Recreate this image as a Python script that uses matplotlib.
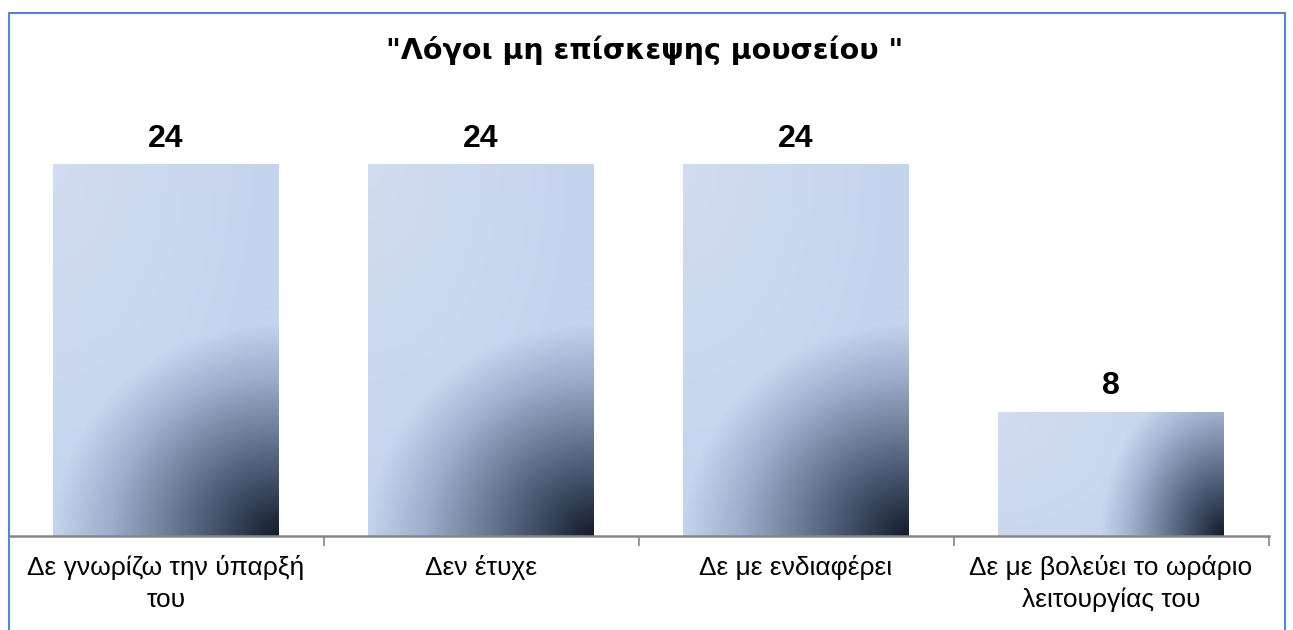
import numpy as np
import matplotlib
matplotlib.use('Agg')
import matplotlib.pyplot as plt
from matplotlib.colors import LinearSegmentedColormap
from matplotlib.patches import Rectangle

categories = ['Δε γνωρίζω την ύπαρξή\nτου', 'Δεν έτυχε', 'Δε με ενδιαφέρει',
              'Δε με βολεύει το ωράριο\nλειτουργίας του']
values = [24, 24, 24, 8]
title = '"Λόγοι μη επίσκεψης μουσείου "'

W, H, DPI = 1293, 630, 100
PX = 72 / DPI  # points per pixel
fig = plt.figure(figsize=(W / DPI, H / DPI), dpi=DPI)

# axes box in pixels: left 8.5, right 1268.5, bottom at y=536 (from top)
ax_left, ax_right = 8.5, 1268.5
ax_bottom, ax_top = 536, 100
ax = fig.add_axes([ax_left / W, 1 - ax_bottom / H,
                   (ax_right - ax_left) / W, (ax_bottom - ax_top) / H])
xlim = (-0.5, len(categories) - 0.5)
ylim = (0, (ax_bottom - ax_top) / 15.47)
ax.set_xlim(*xlim)
ax.set_ylim(*ylim)

x = np.arange(len(categories))
bars = ax.bar(x, values, width=0.717, color='none', edgecolor='none', zorder=2)

# radial shade from the bottom-right corner of each bar
cmap = LinearSegmentedColormap.from_list(
    'shade', ['#141b2a', '#3f4d65', '#6f7f99', '#9eaecb', '#c4d4ed'])
fig.canvas.draw()
for b in bars:
    x0, y0 = b.get_x(), b.get_y()
    bw, bh = b.get_width(), b.get_height()
    p0 = ax.transData.transform((x0, y0))
    p1 = ax.transData.transform((x0 + bw, y0 + bh))
    pw, ph = int(round(p1[0] - p0[0])), int(round(p1[1] - p0[1]))
    xx, yy = np.meshgrid(np.arange(pw) + 0.5, np.arange(ph) + 0.5)
    rx = min(pw, ph)
    ry = 0.5 * rx + 100
    d = np.clip(np.hypot((pw - xx) / rx, yy / ry), 0, 1)
    rgba = cmap(d)
    # soft lavender tint toward the top-left corner
    t = np.clip(1 - np.hypot(xx / pw, (ph - yy) / max(ph, 200)), 0, 1)
    t = (0.55 * t * d ** 4)[..., None]
    rgba[..., :3] = rgba[..., :3] * (1 - t) + np.array([0.87, 0.89, 0.96]) * t
    ax.imshow(rgba, extent=(x0, x0 + bw, y0, y0 + bh), origin='lower',
              aspect='auto', interpolation='bilinear', zorder=2)
    ax.annotate(str(int(bh)), (x0 + bw / 2, bh), xytext=(0, 18 * PX),
                textcoords='offset points', ha='center', va='baseline',
                fontsize=23, fontweight='bold', family='Liberation Sans')

ax.set_xlim(*xlim)
ax.set_ylim(*ylim)

for s in ['top', 'right', 'left']:
    ax.spines[s].set_visible(False)
ax.spines['bottom'].set_color('#868686')
ax.spines['bottom'].set_linewidth(1.8)
ax.set_yticks([])
ax.set_xticks(np.arange(-0.5, len(categories)))
ax.set_xticklabels([])
ax.tick_params(axis='x', length=7, width=1.2, color='#868686', direction='out')
for xi, lab in zip(x, categories):
    ax.annotate(lab, (xi, 0), xycoords=('data', 'axes fraction'),
                xytext=(0, -19 * PX), textcoords='offset points',
                ha='center', va='top', fontsize=19, family='Liberation Sans',
                linespacing=1.4)

fig.text(645 / W, 1 - 59 / H, title, ha='center', va='baseline',
         fontsize=20.5, fontweight='bold', family='DejaVu Sans')

# chart frame
fig.patches.append(Rectangle((8.5 / W, -0.1), (1284.5 - 8.5) / W, 1.1 - 13.5 / H,
                             transform=fig.transFigure, fill=False,
                             edgecolor='#5b86c5', linewidth=1.5))

fig.savefig('out.png', dpi=DPI)
